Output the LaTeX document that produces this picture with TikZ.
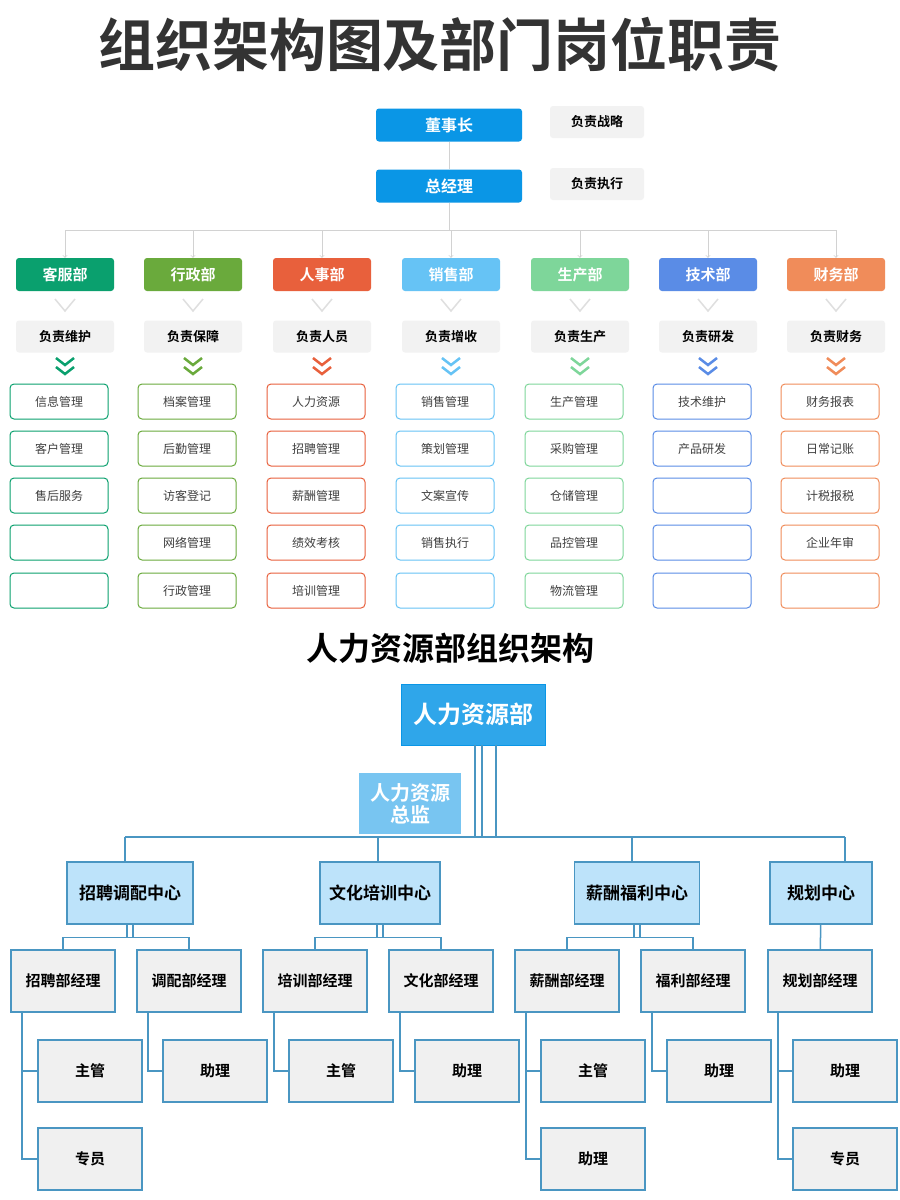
\documentclass[tikz,border=0pt]{standalone}
\usepackage{fontspec}
\setmainfont{Noto Sans CJK SC}
\newfontfamily\cjkb{Noto Sans CJK SC Bold}
\begin{document}
\begin{tikzpicture}[x=1pt,y=-1pt,
  topbox/.style={draw=none,fill=topblue,rounded corners=3pt,minimum width=146pt,minimum height=33pt,text=white,font=\cjkb\fontsize{16}{16}\selectfont},
  graybox/.style={fill=gray!10,rounded corners=3pt,minimum width=94pt,minimum height=32pt,font=\cjkb\fontsize{13}{13}\selectfont},
  deptbox/.style={rounded corners=3pt,minimum width=98pt,minimum height=33pt,text=white,font=\cjkb\fontsize{15}{15}\selectfont},
  itembox/.style={draw,line width=1pt,fill=white,rounded corners=4pt,minimum width=98pt,minimum height=35pt,text=black!75,font=\fontsize{12}{12}\selectfont},
  hrbox/.style={draw=hrline,line width=1.2pt,fill=hrfill,minimum width=#1,minimum height=62pt,font=\cjkb\fontsize{17}{17}\selectfont},
  stbox/.style={draw=hrline,line width=1.2pt,fill=gray!12,minimum width=104pt,minimum height=62pt,font=\cjkb\fontsize{15}{15}\selectfont},
  hl/.style={draw=hrline,line width=1.5pt},
  tl/.style={draw=gray!35,line width=0.8pt}]
\definecolor{topblue}{HTML}{0A96E6}
\definecolor{hrline}{HTML}{4A96C2}
\definecolor{hrfill}{HTML}{BDE3FA}
\definecolor{cA}{HTML}{0AA06E}\definecolor{cB}{HTML}{6AAA3C}\definecolor{cC}{HTML}{E8603C}
\definecolor{cD}{HTML}{66C3F5}\definecolor{cE}{HTML}{7ED69A}\definecolor{cF}{HTML}{5A8CE6}\definecolor{cG}{HTML}{F08C5A}
\fill[white] (0,0) rectangle (900,1200);
\useasboundingbox (0,0) rectangle (900,1200);
\node[font=\cjkb\fontsize{57}{57}\selectfont,text=black!80] (title) at (440,45) {组织架构图及部门岗位职责};
\node[topbox] (dsz) at (449,125) {董事长};
\node[graybox] (r1) at (597,122) {负责战略};
\node[topbox] (zjl) at (449,186) {总经理};
\node[graybox] (r2) at (597,184) {负责执行};
\draw[tl] (dsz) -- (zjl);
\coordinate (hub) at (449,230);
\draw[tl] (zjl) -- (hub);
\draw[tl] (65,230) -- (836,230);
\foreach \x/\c/\d/\r/\a/\b/\e/\f/\g [count=\i] in {
 65/cA/客服部/负责维护/信息管理/客户管理/售后服务//,
 193/cB/行政部/负责保障/档案管理/后勤管理/访客登记/网络管理/行政管理,
 322/cC/人事部/负责人员/人力资源/招聘管理/薪酬管理/绩效考核/培训管理,
 451/cD/销售部/负责增收/销售管理/策划管理/文案宣传/销售执行/,
 580/cE/生产部/负责生产/生产管理/采购管理/仓储管理/品控管理/物流管理,
 708/cF/技术部/负责研发/技术维护/产品研发///,
 836/cG/财务部/负责财务/财务报表/日常记账/计税报税/企业年审/}{
  \node[deptbox,fill=\c] (d\i) at (\x,274.5) {\d};
  \draw[tl,->] (\x,230) -- (d\i.north);
  \draw[gray!25,line width=1.5pt] (\x-10,299) -- (\x,311) -- (\x+10,299);
  \node[graybox,minimum width=98pt] (g\i) at (\x,336.5) {\r};
  \draw[\c,line width=2.5pt] (\x-9,358) -- (\x,365) -- (\x+9,358);
  \draw[\c,line width=2.5pt] (\x-9,367) -- (\x,374) -- (\x+9,367);
  \node[itembox,draw=\c] (i\i a) at (\x-6,401.5) {\a};
  \node[itembox,draw=\c] (i\i b) at (\x-6,448.5) {\b};
  \node[itembox,draw=\c] (i\i c) at (\x-6,495.5) {\e};
  \node[itembox,draw=\c] (i\i d) at (\x-6,542.5) {\f};
  \node[itembox,draw=\c] (i\i e) at (\x-6,590.5) {\g};
}
% HR part
\node[font=\cjkb\fontsize{32}{32}\selectfont] (sub) at (450,648) {人力资源部组织架构};
\node[fill=topblue!85!white,draw=topblue,minimum width=144pt,minimum height=61pt,text=white,font=\cjkb\fontsize{24}{24}\selectfont] (hr) at (473,714.5) {人力资源部};
\node[fill=topblue!55!white,minimum width=102pt,minimum height=61pt,text=white,align=center,font=\cjkb\fontsize{20}{22}\selectfont] (zj) at (410,803.5) {人力资源\\总监};
\draw[hl] (475,745) -- (475,837) (482,745) -- (482,837) (496,745) -- (496,837);
\draw[hl] (125,837) -- (845,837);
\node[hrbox=126pt] (c1) at (130,893) {招聘调配中心};
\node[hrbox=120pt] (c2) at (380,893) {文化培训中心};
\node[hrbox=125pt] (c3) at (637,893) {薪酬福利中心};
\node[hrbox=102pt] (c4) at (821,893) {规划中心};
\foreach \x/\n in {125/c1,378/c2,632/c3,845/c4}{\draw[hl] (\x,837) -- (\x,862);}
\node[stbox] (m1) at (63,981) {招聘部经理};
\node[stbox] (m2) at (189,981) {调配部经理};
\node[stbox] (m3) at (315,981) {培训部经理};
\node[stbox] (m4) at (441,981) {文化部经理};
\node[stbox] (m5) at (567,981) {薪酬部经理};
\node[stbox] (m6) at (693,981) {福利部经理};
\node[stbox] (m7) at (820,981) {规划部经理};
\foreach \c/\l/\r in {c1/m1/m2,c2/m3/m4,c3/m5/m6}{
  \draw[hl] ([xshift=-3pt]\c.south) -- ++(0,13) ([xshift=3pt]\c.south) -- ++(0,13);
  \draw[hl] (\l.north) |- ([yshift=-13pt]\c.south) -| (\r.north);
}
\draw[hl] (c4) -- (m7);
\node[stbox] (s1) at (90,1071) {主管};
\node[stbox] (s2) at (90,1159) {专员};
\node[stbox] (s3) at (215,1071) {助理};
\node[stbox] (s4) at (341,1071) {主管};
\node[stbox] (s5) at (467,1071) {助理};
\node[stbox] (s6) at (593,1071) {主管};
\node[stbox] (s7) at (593,1159) {助理};
\node[stbox] (s8) at (719,1071) {助理};
\node[stbox] (s9) at (845,1071) {助理};
\node[stbox] (s10) at (845,1159) {专员};
\draw[hl] (22,1012) |- (s2.west); \draw[hl] (22,1071) -- (s1.west);
\draw[hl] (148,1012) |- (s3.west);
\draw[hl] (274,1012) |- (s4.west);
\draw[hl] (400,1012) |- (s5.west);
\draw[hl] (526,1012) |- (s7.west); \draw[hl] (526,1071) -- (s6.west);
\draw[hl] (652,1012) |- (s8.west);
\draw[hl] (778,1012) |- (s10.west); \draw[hl] (778,1071) -- (s9.west);
\end{tikzpicture}
\end{document}
